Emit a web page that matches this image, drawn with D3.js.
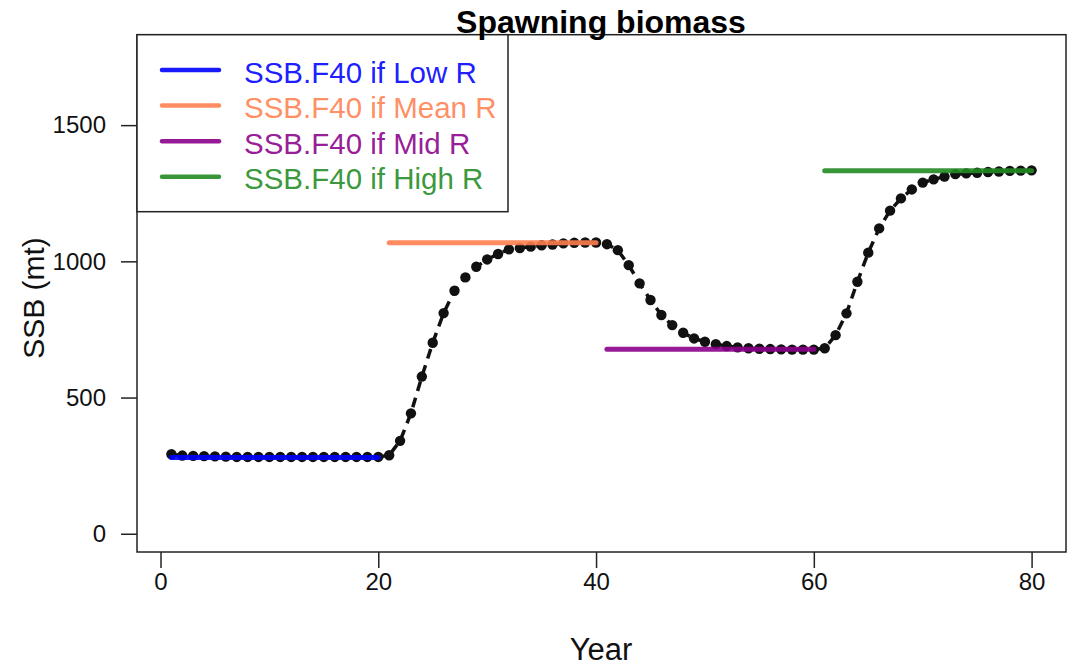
<!DOCTYPE html>
<html>
<head>
<meta charset="utf-8">
<script src="https://cdn.jsdelivr.net/npm/d3@7"></script>
<style>
  body { margin: 0; background: #fff; }
  svg { display: block; font-family: "Liberation Sans", Arial, sans-serif; }
</style>
</head>
<body>
<svg id="chart"></svg>
<script>
// values
const years = [1, 2, 3, 4, 5, 6, 7, 8, 9, 10, 11, 12, 13, 14, 15, 16, 17, 18, 19, 20,
  21, 22, 23, 24, 25, 26, 27, 28, 29, 30, 31, 32, 33, 34, 35, 36, 37, 38, 39, 40,
  41, 42, 43, 44, 45, 46, 47, 48, 49, 50, 51, 52, 53, 54, 55, 56, 57, 58, 59, 60,
  61, 62, 63, 64, 65, 66, 67, 68, 69, 70, 71, 72, 73, 74, 75, 76, 77, 78, 79, 80];

const ssb = [292, 287, 286, 285, 284, 283, 282, 282, 282, 282, 282, 282, 282, 282, 282, 282, 282, 282, 282, 282,
  288, 341, 442, 577, 701, 810, 892, 941, 980, 1007, 1027, 1044, 1049, 1054, 1059, 1062, 1066, 1068, 1069, 1069,
  1063, 1041, 986, 919, 858, 803, 766, 738, 717, 705, 696, 689, 684, 681, 679, 678, 677, 676, 676, 676,
  681, 729, 809, 925, 1032, 1121, 1186, 1231, 1264, 1289, 1301, 1311, 1320, 1323, 1325, 1328, 1330, 1332, 1333, 1334];

// reference levels (SSB at F40) for each recruitment regime
const refNames = ["SSB.F40 if Low R", "SSB.F40 if Mean R", "SSB.F40 if Mid R", "SSB.F40 if High R"];
const refLevels = [280, 1068, 677, 1333];
const refStart = [1, 21, 41, 61];
const refEnd = [20, 40, 60, 80];
const refColors = ["#0000ff", "#ff7f50", "#8b008b", "#228b22"];

const xTicks = [0, 20, 40, 60, 80];
const yTicks = [0, 500, 1000, 1500];

const width = 1072, height = 669;
const svg = d3.select("#chart").attr("width", width).attr("height", height);

// plot region (R style, 4% padding on x)
const x = d3.scaleLinear().domain([-2.16, 83.16]).range([137, 1066]);
const y = d3.scaleLinear().domain([-67, 1832]).range([552, 34.7]);

// curve: dashed line + dots
const line = d3.line().x((d, i) => x(years[i])).y(d => y(d));
svg.append("path")
  .datum(ssb)
  .attr("d", line)
  .attr("fill", "none")
  .attr("stroke", "#111")
  .attr("stroke-width", 3.5)
  .attr("stroke-dasharray", "10,7");

svg.append("g").selectAll("circle")
  .data(ssb)
  .enter()
  .append("circle")
  .attr("cx", (d, i) => x(years[i]))
  .attr("cy", d => y(d))
  .attr("r", 5.2)
  .attr("fill", "#111");

// reference lines on top
svg.append("g").selectAll("line")
  .data(refLevels)
  .enter()
  .append("line")
  .attr("x1", (d, i) => x(refStart[i]))
  .attr("x2", (d, i) => x(refEnd[i]))
  .attr("y1", d => y(d))
  .attr("y2", d => y(d))
  .attr("stroke", (d, i) => refColors[i])
  .attr("stroke-opacity", 0.9)
  .attr("stroke-width", 5)
  .attr("stroke-linecap", "round");

// axes
const xAxis = d3.axisBottom(x).tickValues(xTicks).tickSize(16).tickPadding(5);
const gx = svg.append("g").attr("transform", "translate(0,552)").call(xAxis);
gx.select(".domain").remove();
gx.selectAll("line").attr("stroke", "#222").attr("stroke-width", 1.5);
gx.selectAll("text").attr("font-size", 24).attr("fill", "#111");

const yAxis = d3.axisLeft(y).tickValues(yTicks).tickFormat(d3.format("d")).tickSize(16).tickPadding(15);
const gy = svg.append("g").attr("transform", "translate(137,0)").call(yAxis);
gy.select(".domain").remove();
gy.selectAll("line").attr("stroke", "#222").attr("stroke-width", 1.5);
gy.selectAll("text").attr("font-size", 24).attr("fill", "#111");

// box
svg.append("rect")
  .attr("x", 137).attr("y", 34.7)
  .attr("width", 1066 - 137).attr("height", 552 - 34.7)
  .attr("fill", "none").attr("stroke", "#222").attr("stroke-width", 1.5);

// legend
const legend = svg.append("g");
legend.append("rect")
  .attr("x", 137).attr("y", 34.7)
  .attr("width", 508 - 137).attr("height", 211.7 - 34.7)
  .attr("fill", "#fff").attr("stroke", "#222").attr("stroke-width", 1.5);

const rowY = d3.scaleLinear().domain([0, 3]).range([70, 176.7]);
refNames.forEach((name, i) => {
  legend.append("line")
    .attr("x1", 162).attr("x2", 219)
    .attr("y1", rowY(i)).attr("y2", rowY(i))
    .attr("stroke", refColors[i]).attr("stroke-opacity", 0.9)
    .attr("stroke-width", 4.5).attr("stroke-linecap", "round");
  legend.append("text")
    .attr("x", 244).attr("y", rowY(i) + 12.5)
    .attr("font-size", 29.5)
    .attr("fill", refColors[i]).attr("fill-opacity", 0.9)
    .text(name);
});

// titles (drawn last, over the box line)
svg.append("text")
  .attr("x", 601).attr("y", 33)
  .attr("text-anchor", "middle")
  .attr("font-size", 32).attr("font-weight", "bold")
  .text("Spawning biomass");

svg.append("text")
  .attr("x", 601).attr("y", 660)
  .attr("text-anchor", "middle")
  .attr("font-size", 31).attr("fill", "#111")
  .text("Year");

svg.append("text")
  .attr("transform", "translate(44,298) rotate(-90)")
  .attr("text-anchor", "middle")
  .attr("font-size", 30).attr("fill", "#111")
  .text("SSB (mt)");
</script>
</body>
</html>
